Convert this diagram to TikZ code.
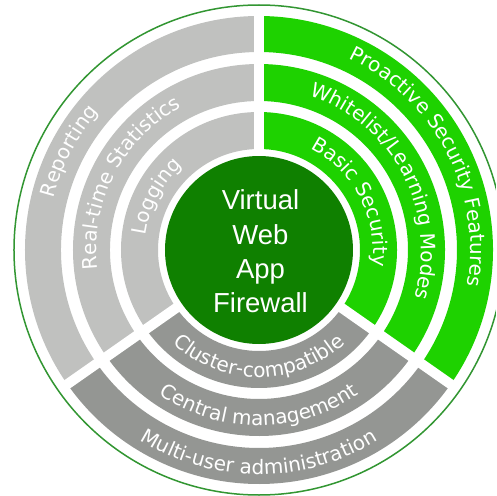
\documentclass[tikz,border=0pt]{standalone}
\usepackage{fontspec}
\usetikzlibrary{decorations.text}
\newfontfamily\ringfam{DejaVu Sans}
\newfontfamily\corefam{Liberation Sans}
\definecolor{lgray}{RGB}{192,193,191}
\definecolor{dgray}{RGB}{148,150,147}
\definecolor{bgreen}{RGB}{30,210,0}
\definecolor{cgreen}{RGB}{15,128,0}
\definecolor{ogreen}{RGB}{50,150,50}
\newcommand\ringtxt{\ringfam\fontsize{20}{24}\selectfont\color{white}}
\newcommand\ringband[5]{\fill[#5] (#1:#4) arc[start angle=#1,end angle=#2,radius=#4] -- (#2:#3) arc[start angle=#2,end angle=#1,radius=#3] -- cycle;}
\tikzset{
  ringlabel/.style={decorate,decoration={text along path,text align=center,text={|\ringtxt|#1}}},
  gapline/.style={white,line width=10pt},
  corecircle/.style={fill=cgreen},
  coretext/.style={text=white,align=center,font=\corefam\fontsize{27.5}{34.3}\selectfont}
}
\begin{document}
\begin{tikzpicture}
\useasboundingbox (-259pt,-246pt) rectangle (237pt,250pt);
\fill[white] (-259pt,-246pt) rectangle (237pt,250pt);
\clip (-259pt,-246pt) rectangle (237pt,250pt);
% outline
\draw[ogreen,line width=1.5pt] (0,0) circle[radius=245pt];
% gray sector
\ringband{90}{215}{198pt}{234pt}{lgray}
\ringband{90}{215}{149pt}{186pt}{lgray}
\ringband{90}{215}{101pt}{138pt}{lgray}
% green sector
\ringband{-35}{90}{198pt}{234pt}{bgreen}
\ringband{-35}{90}{149pt}{186pt}{bgreen}
\ringband{-35}{90}{101pt}{138pt}{bgreen}
% bottom sector
\ringband{215}{325}{198pt}{234pt}{dgray}
\ringband{215}{325}{149pt}{186pt}{dgray}
\ringband{215}{325}{101pt}{138pt}{dgray}
% radial gaps
\coordinate (c) at (0,0);
\coordinate (g1) at (90:240pt);
\coordinate (g2) at (215:240pt);
\coordinate (g3) at (325:240pt);
\draw[gapline] (c) -- (g1);
\draw[gapline] (c) -- (g2);
\draw[gapline] (c) -- (g3);
% core
\fill[corecircle] (0,0) circle[radius=94pt];
\node[coretext] (core) at (1.5pt,-1.5pt) {Virtual\\Web\\App\\Firewall};
% gray labels (clockwise, tops outward)
\path[ringlabel=Reporting] (215:211.5pt) arc[start angle=215,end angle=90,radius=211.5pt];
\path[ringlabel=Real-time Statistics] (215:162.5pt) arc[start angle=215,end angle=90,radius=162.5pt];
\path[ringlabel=Logging] (215:114pt) arc[start angle=215,end angle=90,radius=114pt];
% green labels
\path[ringlabel=Proactive Security Features] (90:211.5pt) arc[start angle=90,end angle=-35,radius=211.5pt];
\path[ringlabel=Whitelist/Learning Modes] (90:162.5pt) arc[start angle=90,end angle=-35,radius=162.5pt];
\path[ringlabel=Basic Security] (90:114pt) arc[start angle=90,end angle=-35,radius=114pt];
% bottom labels (counterclockwise, tops inward)
\path[ringlabel=Multi-user administration] (215:224.5pt) arc[start angle=215,end angle=325,radius=224.5pt];
\path[ringlabel=Central management] (215:175.5pt) arc[start angle=215,end angle=325,radius=175.5pt];
\path[ringlabel=Cluster-compatible] (215:127pt) arc[start angle=215,end angle=325,radius=127pt];
\end{tikzpicture}
\end{document}
